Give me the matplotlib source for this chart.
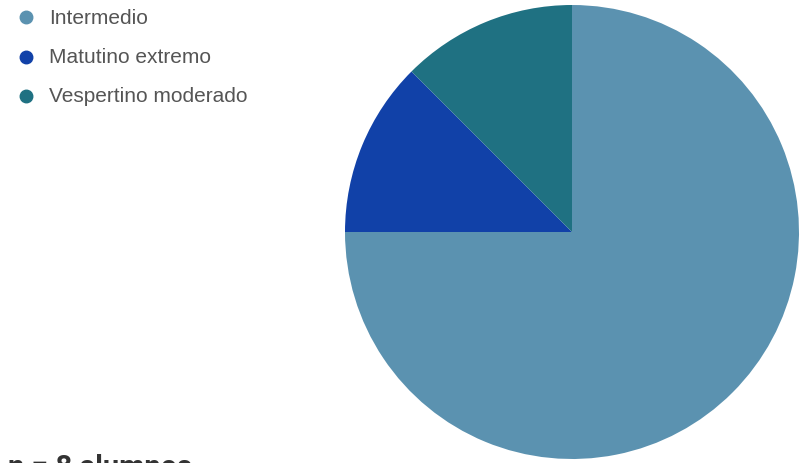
import matplotlib.pyplot as plt
from matplotlib.lines import Line2D

# cronotipo de los alumnos
labels = ["Intermedio", "Matutino extremo", "Vespertino moderado"]
counts = [6, 1, 1]
colors = ["#5b92b0", "#1141a8", "#1f7182"]
note = "n = 8 alumnos"

W, H = 803, 464
fig = plt.figure(figsize=(W / 100, H / 100), dpi=100)

# pie area: center (572,233), radius ~227 px
cx, cy, r = 572, 233, 227
ax = fig.add_axes([(cx - r) / W, (H - cy - r) / H, 2 * r / W, 2 * r / H])
ax.pie(counts, colors=colors, startangle=90, counterclock=False,
       radius=1, wedgeprops={"linewidth": 0})
ax.set_xlim(-1, 1)
ax.set_ylim(-1, 1)
ax.set_aspect("equal")
ax.axis("off")

# legend at top-left
for i, (lab, col) in enumerate(zip(labels, colors)):
    y = 1 - (18 + i * 39.5) / H
    fig.add_artist(Line2D([26 / W], [y], marker="o", markersize=9, color=col,
                          ls="", transform=fig.transFigure))
    fig.text(49 / W, y, lab, fontsize=15, color="#555555", va="center",
             family="Liberation Sans")

# nota abajo, cortada como en el original
fig.text(8 / W, 1 - 476 / H, note, fontsize=21, fontweight="bold",
         color="#333333", va="baseline", ha="left", family="Roboto")

fig.savefig("out.png", dpi=100)
